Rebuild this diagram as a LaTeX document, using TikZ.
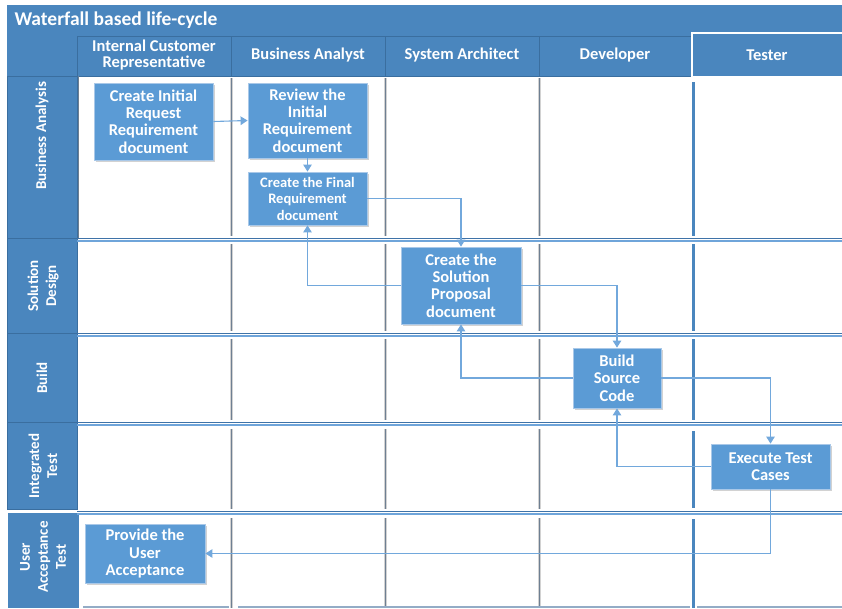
\documentclass[tikz,border=0pt]{standalone}
\usepackage{fontspec}
\setmainfont{Carlito}
\usetikzlibrary{arrows.meta,shadows}
\definecolor{hdrblue}{HTML}{4A86BE}
\definecolor{hdrdark}{HTML}{3A6E9F}
\definecolor{boxblue}{HTML}{5B9BD5}
\definecolor{boxedge}{HTML}{A9C8E8}
\definecolor{flow}{HTML}{72A8DC}
\definecolor{sepdark}{HTML}{3F73A8}
\definecolor{seplight}{HTML}{6FA5DA}
\definecolor{vline}{HTML}{6E7F92}
\definecolor{bottomline}{HTML}{93ACC6}
\tikzset{
  hdrcell/.style={fill=hdrblue, draw=hdrdark, line width=0.6pt},
  hdrtext/.style={text=white, font=\bfseries\fontsize{16.5}{16}\selectfont, align=center},
  lanetext/.style={text=white, font=\bfseries\fontsize{15}{18}\selectfont, align=center, rotate=90},
  task/.style={rectangle, fill=boxblue, draw=boxedge, line width=0.8pt, text=white,
    font=\bfseries\fontsize{16.5}{17.4}\selectfont, align=center, inner sep=2pt,
    drop shadow={shadow xshift=2pt, shadow yshift=-2pt, opacity=0.35, fill=gray}},
  flowline/.style={draw=flow, line width=1.1pt, -{Triangle[width=8.5pt,length=7pt]}},
  colline/.style={draw=vline, line width=1pt},
  testerline/.style={draw=hdrblue, line width=3pt},
}
\begin{document}
\begin{tikzpicture}[x=1pt,y=-1pt]
\useasboundingbox (0,0) rectangle (842,608);
\fill[white] (0,0) rectangle (842,608);

% title bar
\fill[hdrblue] (7,5) rectangle (842,36);
\node[anchor=west, text=white, font=\bfseries\fontsize{19.5}{20}\selectfont] (title) at (11,20) {Waterfall based life-cycle};

% column headers
\draw[hdrcell] (77,36) rectangle (231,76);
\draw[hdrcell] (231,36) rectangle (385,76);
\draw[hdrcell] (385,36) rectangle (539,76);
\draw[hdrcell] (539,36) rectangle (692,76);
\fill[hdrblue] (692,34) rectangle (842,77);
\draw[white, line width=1.8pt] (842,33) -- (692,33) -- (692,77) -- (842,77);
\node[hdrtext] (hICR) at (154,55) {Internal Customer\\Representative};
\node[hdrtext] (hBA) at (308,55) {Business Analyst};
\node[hdrtext] (hSA) at (462,55) {System Architect};
\node[hdrtext] (hDev) at (615,55) {Developer};
\node[hdrtext] (hTest) at (767,55) {Tester};

% lane headers
\fill[hdrblue] (7,36) rectangle (77,76);
\draw[hdrcell] (7,76) rectangle (77,238);
\draw[hdrcell] (7,238) rectangle (77,333);
\draw[hdrcell] (7,333) rectangle (77,422);
\draw[hdrcell] (7,422) rectangle (77,509);
\fill[hdrblue] (8,513) rectangle (79,608);
\draw[white, line width=1.5pt] (6,512) -- (80,512) -- (80,608);
\node[lanetext] (lBA) at (42,136) {Business Analysis};
\node[lanetext] (lSD) at (43,286) {Solution\\Design};
\node[lanetext] (lBuild) at (42,378) {Build};
\node[lanetext] (lIT) at (43,466) {Integrated\\Test};
\node[lanetext] (lUAT) at (43,557) {User\\Acceptance\\Test};

% lane separators (double lines)
\foreach \yy in {238,333,422,511} {
  \draw[sepdark, line width=1pt] (77,\yy) -- (842,\yy);
  \draw[seplight, line width=1.6pt] (77,\yy+3) -- (842,\yy+3);
}
\draw[vline, line width=0.8pt] (78,76) -- (78,238);

% column dividers inside the lanes
\foreach \xx in {231,385,539} {
  \foreach \ya/\yb in {78/236, 244/331, 339/420, 429/509, 518/608} {
    \draw[gray!35, line width=2.4pt] (\xx+0.5,\ya) -- (\xx+0.5,\yb);
    \draw[colline] (\xx,\ya) -- (\xx,\yb);
  }
}
\foreach \ya/\yb in {82/236, 244/331, 339/420, 431/508, 519/608}
  \draw[testerline] (693,\ya) -- (693,\yb);

% bottom edge of the pool
\draw[bottomline, line width=2pt] (83,607) -- (229,607);
\draw[bottomline, line width=2pt] (238,607) -- (690,607);
\draw[bottomline, line width=2pt] (697,607) -- (842,607);

% tasks
\node[task, minimum width=119pt, minimum height=77pt] (b1) at (153.5,121.5) {Create Initial\\Request\\Requirement\\document};
\node[task, minimum width=119pt, minimum height=75pt] (b2) at (307.5,120.5) {Review the\\Initial\\Requirement\\document};
\node[task, minimum width=119pt, minimum height=53pt, font=\bfseries\fontsize{14.5}{16.5}\selectfont] (b3) at (307.5,198.5) {Create the Final\\Requirement\\document};
\node[task, minimum width=120pt, minimum height=77pt] (b4) at (461,285.5) {Create the\\Solution\\Proposal\\document};
\node[task, minimum width=88pt, minimum height=60pt] (b5) at (617,378) {Build\\Source\\Code};
\node[task, minimum width=119pt, minimum height=45pt] (b6) at (770.5,466.5) {Execute Test\\Cases};
\node[task, minimum width=120pt, minimum height=59pt] (b7) at (145,553.5) {Provide the\\User\\Acceptance};

% flow
\draw[flowline] (b1.east) -- (b2.west);
\draw[flowline] (b2.south) -- (b3.north);
\draw[flowline] (b3.east) -| (b4.north);
\draw[flowline] (b4.west) -| (b3.south);
\draw[flowline] (b4.east) -| (b5.north);
\draw[flowline] (b5.west) -| (b4.south);
\draw[flowline] (b5.east) -| (b6.north);
\draw[flowline] (b6.west) -| (b5.south);
\draw[flowline] (b6.south) |- (b7.east);
\end{tikzpicture}
\end{document}
